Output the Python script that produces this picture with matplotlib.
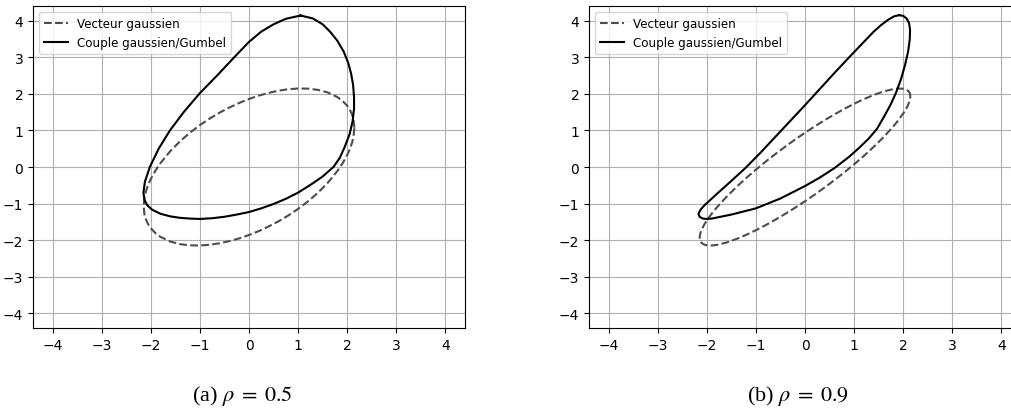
import matplotlib
matplotlib.use("Agg")
import matplotlib.pyplot as plt

# Gaussian contour, rho = 0.5
gauss05_x = [2.146, 2.13, 2.1, 2.05, 2.0, 1.9, 1.8, 1.6, 1.4, 1.2, 1.0, 0.8, 0.6, 0.4, 0.2, 0.0,
             -0.2, -0.4, -0.6, -0.8, -1.0, -1.2, -1.4, -1.6, -1.8, -1.9, -2.0, -2.05, -2.1, -2.13, -2.146,
             -2.13, -2.1, -2.05, -2.0, -1.9, -1.8, -1.6, -1.4, -1.2, -1.0, -0.8, -0.6, -0.4, -0.2, 0.0,
             0.2, 0.4, 0.6, 0.8, 1.0, 1.2, 1.4, 1.6, 1.8, 1.9, 2.0, 2.05, 2.1, 2.13, 2.146]
gauss05_y = [1.073, 1.292, 1.433, 1.575, 1.674, 1.814, 1.912, 2.039, 2.109, 2.141, 2.145, 2.125, 2.085, 2.026, 1.951, 1.859,
             1.751, 1.626, 1.485, 1.325, 1.145, 0.941, 0.709, 0.439, 0.112, -0.086, -0.326, -0.476, -0.667, -0.839, -1.073,
             -1.292, -1.433, -1.575, -1.674, -1.814, -1.912, -2.039, -2.109, -2.141, -2.145, -2.125, -2.085, -2.026, -1.951, -1.859,
             -1.751, -1.626, -1.485, -1.325, -1.145, -0.941, -0.709, -0.439, -0.112, 0.086, 0.326, 0.476, 0.667, 0.839, 1.073]

# Gaussian/Gumbel contour, rho = 0.5
gumbel05_x = [1.05, 0.75, 0.5, 0.25, 0.0, -0.3, -0.65, -1.0, -1.33, -1.61, -1.84, -2.02, -2.12, -2.15,
              -2.13, -2.07, -1.97, -1.8, -1.6, -1.4, -1.2, -1.0, -0.75, -0.5, -0.25, 0.0, 0.25, 0.5, 0.75,
              1.0, 1.25, 1.5, 1.72, 1.85, 1.95, 2.05, 2.11, 2.14, 2.14, 2.12, 2.08, 2.02, 1.93, 1.8, 1.65,
              1.5, 1.3, 1.05]
gumbel05_y = [4.14, 4.05, 3.9, 3.7, 3.42, 3.0, 2.5, 2.02, 1.5, 1.0, 0.5, 0.0, -0.4, -0.7,
              -0.9, -1.05, -1.17, -1.28, -1.35, -1.39, -1.41, -1.42, -1.4, -1.36, -1.3, -1.23, -1.13, -1.01, -0.87,
              -0.7, -0.49, -0.26, 0.0, 0.25, 0.55, 0.9, 1.25, 1.6, 1.9, 2.25, 2.55, 2.85, 3.15, 3.45, 3.7,
              3.9, 4.06, 4.14]

# Gaussian contour, rho = 0.9
gauss09_x = [2.146, 2.14, 2.13, 2.1, 2.05, 2.0, 1.9, 1.8, 1.6, 1.4, 1.2, 1.0, 0.8, 0.6, 0.4, 0.2, 0.0,
             -0.2, -0.4, -0.6, -0.8, -1.0, -1.2, -1.4, -1.6, -1.8, -1.9, -2.0, -2.05, -2.1, -2.13, -2.14, -2.146,
             -2.14, -2.13, -2.1, -2.05, -2.0, -1.9, -1.8, -1.6, -1.4, -1.2, -1.0, -0.8, -0.6, -0.4, -0.2, 0.0,
             0.2, 0.4, 0.6, 0.8, 1.0, 1.2, 1.4, 1.6, 1.8, 1.9, 2.0, 2.05, 2.1, 2.13, 2.14, 2.146]
gauss09_y = [1.931, 1.996, 2.031, 2.083, 2.122, 2.139, 2.145, 2.130, 2.064, 1.969, 1.856, 1.728, 1.588, 1.438, 1.279, 1.112, 0.936,
             0.752, 0.559, 0.358, 0.148, -0.072, -0.304, -0.551, -0.816, -1.110, -1.275, -1.461, -1.568, -1.697, -1.803, -1.856, -1.931,
             -1.996, -2.031, -2.083, -2.122, -2.139, -2.145, -2.130, -2.064, -1.969, -1.856, -1.728, -1.588, -1.438, -1.279, -1.112, -0.936,
             -0.752, -0.559, -0.358, -0.148, 0.072, 0.304, 0.551, 0.816, 1.110, 1.275, 1.461, 1.568, 1.697, 1.803, 1.856, 1.931]

# Gaussian/Gumbel contour, rho = 0.9
gumbel09_x = [1.92, 1.82, 1.7, 1.55, 1.4, 1.2, 0.9, 0.6, 0.3, 0.0, -0.3, -0.6, -0.9, -1.2, -1.5, -1.8,
              -2.05, -2.13, -2.17, -2.15, -2.08, -2.0, -1.9, -1.5, -1.0, -0.5, 0.0, 0.3, 0.6, 0.9, 1.1,
              1.3, 1.47, 1.62, 1.75, 1.86, 1.96, 2.04, 2.1, 2.135, 2.14, 2.12, 2.07, 2.0, 1.92]
gumbel09_y = [4.15, 4.12, 4.03, 3.88, 3.7, 3.42, 3.0, 2.57, 2.13, 1.69, 1.26, 0.83, 0.4, -0.01, -0.38, -0.74,
              -1.05, -1.17, -1.28, -1.36, -1.41, -1.42, -1.41, -1.3, -1.13, -0.86, -0.52, -0.29, -0.03, 0.28, 0.52,
              0.78, 1.05, 1.4, 1.72, 2.05, 2.42, 2.8, 3.15, 3.5, 3.75, 3.93, 4.06, 4.13, 4.15]

ticks = [-4, -3, -2, -1, 0, 1, 2, 3, 4]
captions = [r"(a) $\rho\;=\;0.5$", r"(b) $\rho\;=\;0.9$"]
caption_x = [242, 798]

plt.rcParams['mathtext.fontset'] = 'stix'

fig = plt.figure(figsize=(10.11, 4.14), dpi=100)
ax1 = fig.add_axes([33 / 1011, 85 / 414, 432 / 1011, 322 / 414])
ax2 = fig.add_axes([589 / 1011, 85 / 414, 432 / 1011, 322 / 414])

panels = [(ax1, gauss05_x, gauss05_y, gumbel05_x, gumbel05_y),
          (ax2, gauss09_x, gauss09_y, gumbel09_x, gumbel09_y)]

for ax, gx, gy, cx, cy in panels:
    ax.plot(gx, gy, '--', color='0.3', lw=1.5, label='Vecteur gaussien')
    ax.plot(cx, cy, '-', color='black', lw=1.5, label='Couple gaussien/Gumbel')
    ax.set_xlim(-4.4, 4.4)
    ax.set_ylim(-4.4, 4.4)
    ax.set_xticks(ticks)
    ax.set_yticks(ticks)
    ax.grid(True)
    ax.legend(loc='upper left', fontsize=8.6)

for cx_px, cap in zip(caption_x, captions):
    fig.text(cx_px / 1011, 18 / 414, cap, ha='center', va='center', fontsize=16,
             family='Liberation Serif')

fig.savefig('out.png', dpi=100)
